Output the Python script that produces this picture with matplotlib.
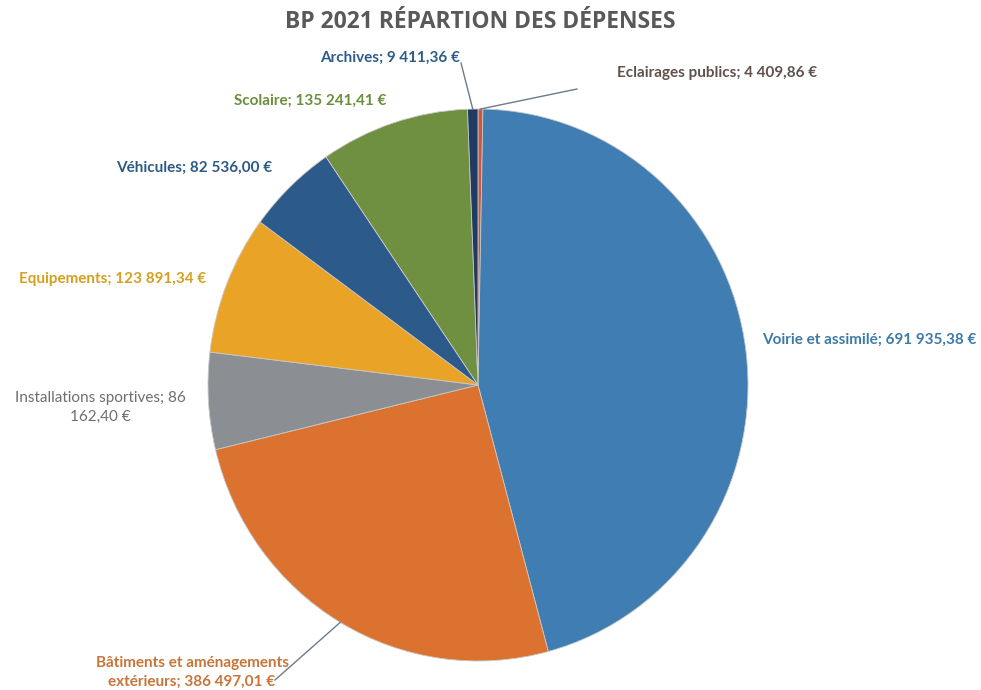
import matplotlib
matplotlib.use("Agg")
import matplotlib.pyplot as plt
import numpy as np

title = "BP 2021 RÉPARTION DES DÉPENSES"
categories = ["Eclairages publics", "Voirie et assimilé", "Bâtiments et aménagements extérieurs",
              "Installations sportives", "Equipements", "Véhicules", "Scolaire", "Archives"]
values = [4409.86, 691935.38, 386497.01, 86162.40, 123891.34, 82536.00, 135241.41, 9411.36]
value_labels = ["4 409,86 €", "691 935,38 €", "386 497,01 €", "86 162,40 €",
                "123 891,34 €", "82 536,00 €", "135 241,41 €", "9 411,36 €"]
colors = ["#d2543a", "#3f7db2", "#dc7230", "#8b8e92", "#e9a428", "#2c5a8a", "#6e9040", "#1f3a63"]
label_colors = ["#5f514c", "#3e7aa8", "#c8753a", "#6e6e6e", "#d4a020", "#2d5a85", "#6a8f3c", "#2e5c8a"]

W, H = 981, 690
fig = plt.figure(figsize=(W / 100, H / 100), dpi=100)
fig.patch.set_facecolor("white")

cx, cy, rx, ry = 478, 385, 270, 276
ax = fig.add_axes([(cx - rx) / W, (H - cy - ry) / H, 2 * rx / W, 2 * ry / H])
wedges, _ = ax.pie(values, colors=colors, startangle=90, counterclock=False, radius=1,
                   wedgeprops=dict(linewidth=0.6, edgecolor="#c8c8c8"))
ax.set_xlim(-1, 1)
ax.set_ylim(-1, 1)
ax.set_aspect("auto")
ax.axis("off")

def fx(x):
    return x / W

def fy(y):
    return 1 - y / H

fig.text(fx(480), fy(22), title, ha="center", va="center", fontsize=16.5,
         fontweight="bold", color="#595959", family=["Open Sans", "DejaVu Sans"])

font = ["Lato", "DejaVu Sans"]
fs = 11
# label layout: (x, y, ha, text lines, weight)
layout = {
    0: (617, 73, "left", f"{categories[0]}; {value_labels[0]}", "bold"),
    1: (762, 340, "left", f"{categories[1]}; {value_labels[1]}", "bold"),
    2: (192, 672, "center", f"Bâtiments et aménagements\nextérieurs; {value_labels[2]}", "bold"),
    3: (100, 407, "center", f"{categories[3]}; 86\n162,40 €", "normal"),
    4: (206, 279, "right", f"{categories[4]}; {value_labels[4]}", "bold"),
    5: (272, 168, "right", f"{categories[5]}; {value_labels[5]}", "bold"),
    6: (386, 101, "right", f"{categories[6]}; {value_labels[6]}", "bold"),
    7: (460, 58, "right", f"{categories[7]}; {value_labels[7]}", "bold"),
}
for i, (x, y, ha, txt, wt) in layout.items():
    fig.text(fx(x), fy(y), txt, ha=ha, va="center", fontsize=fs, fontweight=wt,
             color=label_colors[i], family=font, linespacing=1.45, multialignment="center")

# leader lines
total = sum(values)
cum = np.cumsum([0] + values) / total
leaders = {0: (577, 89), 7: (461, 63), 2: (275, 680)}
for i, (ex, ey) in leaders.items():
    mid = (cum[i] + cum[i + 1]) / 2
    ang = np.deg2rad(90 - 360 * mid)
    sx = cx + rx * np.cos(ang)
    sy = cy - ry * np.sin(ang)
    fig.add_artist(plt.Line2D([fx(sx), fx(ex)], [fy(sy), fy(ey)], color="#6d7b86",
                              linewidth=1.0, transform=fig.transFigure))

fig.savefig("out.png", dpi=100, facecolor="white")
